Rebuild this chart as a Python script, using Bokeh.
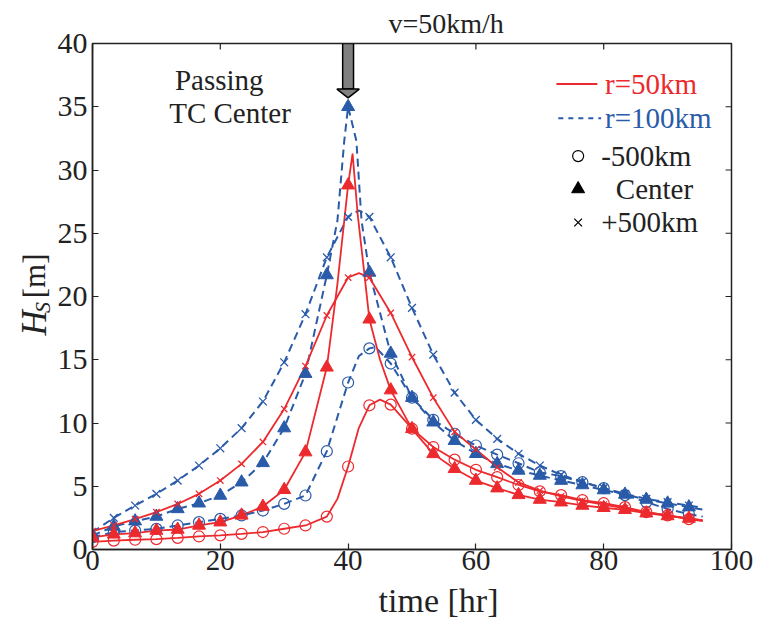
from bokeh.plotting import figure
from bokeh.models import Range1d, FixedTicker, Label, Title
from bokeh.layouts import column, row
from bokeh.embed import file_html
from bokeh.resources import INLINE
import math

# ---------------- data ----------------
T_MARK = [0, 3.33, 6.67, 10, 13.33, 16.67, 20, 23.33, 26.67, 30, 33.33, 36.67, 40,
          43.33, 46.67, 50, 53.33, 56.67, 60, 63.33, 66.67, 70, 73.33, 76.67, 80,
          83.33, 86.67, 90, 93.33]

# r = 50 km (red, solid)
R50_W = [0.6, 0.7, 0.77, 0.82, 0.92, 1.03, 1.12, 1.24, 1.38, 1.64, 1.9, 2.6, 6.56, 11.4,
         11.45, 9.55, 8.1, 7.1, 6.3, 5.72, 5.1, 4.6, 4.3, 3.9, 3.66, 3.35, 2.95, 2.7, 2.4]
R50_C = [0.95, 1.2, 1.3, 1.5, 1.58, 1.9, 2.16, 2.7, 3.4, 4.72, 7.7, 14.4, 28.8, 18.2,
         12.6, 9.54, 7.56, 6.38, 5.45, 4.85, 4.32, 3.95, 3.74, 3.48, 3.3, 3.14, 2.87, 2.65, 2.45]
R50_E = [1.45, 1.9, 2.4, 2.95, 3.6, 4.4, 5.45, 6.77, 8.5, 11.1, 14.5, 18.5, 21.5, 21.5,
         18.7, 15.2, 12.0, 9.3, 7.9, 6.5, 5.3, 4.65, 4.2, 3.85, 3.55, 3.25, 2.95, 2.7, 2.45]
# r = 100 km (blue, dashed)
R100_W = [0.97, 1.37, 1.5, 1.63, 1.9, 2.16, 2.42, 2.69, 3.08, 3.61, 4.27, 7.77, 13.2, 15.9,
          14.7, 12.0, 10.25, 9.15, 8.22, 7.5, 6.82, 6.1, 5.8, 5.32, 4.85, 4.3, 3.75, 3.2, 2.8]
R100_C = [1.1, 1.82, 2.24, 2.61, 3.21, 3.66, 4.27, 5.32, 6.85, 9.6, 13.9, 21.7, 35.0, 21.9,
          15.5, 12.0, 10.06, 8.6, 7.57, 6.77, 6.25, 5.85, 5.45, 5.1, 4.7, 4.35, 3.95, 3.65, 3.35]
R100_E = [1.37, 2.5, 3.48, 4.4, 5.45, 6.64, 8.0, 9.6, 11.7, 14.8, 18.6, 23.1, 26.3, 26.3,
          23.1, 19.1, 15.4, 12.4, 10.25, 8.75, 7.57, 6.64, 5.9, 5.35, 4.85, 4.4, 4.0, 3.74, 3.48]

# extra points of the continuous curves (peaks and curve ends)
R50_W_XT, R50_W_XH = [38.33, 41.67, 45.0, 95.5], [4.0, 9.6, 11.85, 2.25]
R50_C_XT, R50_C_XH = [38.33, 40.7, 41.5, 42.5, 45.0, 95.5], [21.0, 31.3, 26.5, 22.0, 15.0, 2.3]
R50_E_XT, R50_E_XH = [41.7, 95.5], [21.85, 2.3]
R100_W_XT, R100_W_XH = [41.7, 44.3, 95.5], [15.3, 16.0, 2.6]
R100_C_XT, R100_C_XH = [38.33, 39.4, 41.3, 42.1, 95.5], [26.0, 32.3, 32.3, 26.0, 3.15]
R100_E_XT, R100_E_XH = [41.7, 95.5], [26.8, 3.3]

X_TICKS = [0, 20, 40, 60, 80, 100]
Y_TICKS = [0, 5, 10, 15, 20, 25, 30, 35, 40]

RED = "#EC2A2E"
BLUE = "#2A5BA8"
INK = "#222222"
FONT = "Liberation Serif"

# arrow (passing TC centre), in data units
ARROW_T = 40
ARROW_SHAFT_HALF = 0.85
ARROW_HEAD_HALF = 1.75
ARROW_TOP, ARROW_NECK, ARROW_TIP = 40, 36.4, 35.7

# layout sizes (pixels)
TOTAL_W = 758
YLAB_W = 54
ROW_H = 582
XLAB_H = 37
MAIN_W = TOTAL_W - YLAB_W


def merged(ts, hs, ets, ehs):
    pts = sorted(zip(list(ts) + list(ets), list(hs) + list(ehs)))
    return [a for a, _ in pts], [b for _, b in pts]


def blank(w, h):
    f = figure(width=w, height=h, x_range=Range1d(0, w), y_range=Range1d(0, h),
               output_backend="svg", toolbar_location=None, min_border=0,
               x_axis_location=None, y_axis_location=None)
    f.grid.visible = False
    f.outline_line_color = None
    return f


def lab(f, x, y, text, size, color=INK, align="left", baseline="middle", style="normal",
        angle=0):
    f.add_layout(Label(x=x, y=y, text=text, text_font=FONT, text_font_size=size,
                       text_color=color, text_align=align, text_baseline=baseline,
                       text_font_style=style, angle=angle))


# ---------------- main plot ----------------
p = figure(width=MAIN_W, height=ROW_H, x_range=Range1d(0, 100), y_range=Range1d(0, 40),
           output_backend="svg", toolbar_location=None,
           min_border_left=35, min_border_right=MAIN_W - 35 - 642,
           min_border_top=43, min_border_bottom=ROW_H - 43 - 506)
p.grid.visible = False
p.outline_line_color = INK
p.outline_line_width = 1.5

p.add_layout(Title(text="v=50km/h", align="left", offset=296, standoff=9,
                   text_font=FONT, text_font_size="28px", text_font_style="normal",
                   text_color=INK), "above")

for ax in (p.xaxis[0], p.yaxis[0]):
    ax.axis_line_color = INK
    ax.axis_line_width = 1.5
    ax.major_tick_in = 6
    ax.major_tick_out = 0
    ax.major_tick_line_color = INK
    ax.major_tick_line_width = 1.2
    ax.minor_tick_line_color = None
    ax.major_label_text_font = FONT
    ax.major_label_text_color = INK
p.xaxis.major_label_text_font_size = "29px"
p.yaxis.major_label_text_font_size = "30px"
p.xaxis.ticker = FixedTicker(ticks=X_TICKS)
p.yaxis.ticker = FixedTicker(ticks=Y_TICKS)
p.xaxis.major_label_standoff = 1
p.yaxis.major_label_standoff = 5

# inward ticks on the top and right frame edges
TOP_TICK_LEN = 0.47   # 6 px in y data units
RIGHT_TICK_LEN = 0.93  # 6 px in x data units
p.segment(x0=X_TICKS, x1=X_TICKS, y0=[40] * len(X_TICKS), y1=[40 - TOP_TICK_LEN] * len(X_TICKS),
          line_color=INK, line_width=1.2)
p.segment(x0=[100] * len(Y_TICKS), x1=[100 - RIGHT_TICK_LEN] * len(Y_TICKS), y0=Y_TICKS,
          y1=Y_TICKS, line_color=INK, line_width=1.2)

# ---------------- curves ----------------
blue_series = [(R100_W, R100_W_XT, R100_W_XH, "circle"),
               (R100_C, R100_C_XT, R100_C_XH, "triangle"),
               (R100_E, R100_E_XT, R100_E_XH, "x")]
red_series = [(R50_W, R50_W_XT, R50_W_XH, "circle"),
              (R50_C, R50_C_XT, R50_C_XH, "triangle"),
              (R50_E, R50_E_XT, R50_E_XH, "x")]

for vals, xt, xh, mk in blue_series:
    lt, lh = merged(T_MARK, vals, xt, xh)
    p.line(lt, lh, line_color=BLUE, line_width=2, line_dash="8 5")
for vals, xt, xh, mk in red_series:
    lt, lh = merged(T_MARK, vals, xt, xh)
    p.line(lt, lh, line_color=RED, line_width=1.8)


def markers(vals, mk, col, xsize):
    if mk == "circle":
        p.scatter(T_MARK, vals, marker="circle", size=11, fill_color=None,
                  line_color=col, line_width=1.2)
    elif mk == "triangle":
        p.scatter(T_MARK, vals, marker="triangle", size=13, fill_color=col,
                  line_color=col, line_width=1)
    else:
        p.scatter(T_MARK, vals, marker="x", size=xsize, line_color=col, line_width=1.3)


for vals, xt, xh, mk in blue_series:
    markers(vals, mk, BLUE, 11)
for vals, xt, xh, mk in red_series:
    markers(vals, mk, RED, 9)

# ---------------- arrow ----------------
p.quad(left=[ARROW_T - ARROW_SHAFT_HALF], right=[ARROW_T + ARROW_SHAFT_HALF],
       top=[ARROW_TOP], bottom=[ARROW_NECK], fill_color="#808080", line_color="black",
       line_width=1.5)
p.patch([ARROW_T - ARROW_HEAD_HALF, ARROW_T + ARROW_HEAD_HALF, ARROW_T],
        [ARROW_NECK, ARROW_NECK, ARROW_TIP], fill_color="#808080", line_color="black",
        line_width=1.5)

# ---------------- in-plot texts ----------------
lab(p, 12.9, 37.1, "Passing", "29px")
lab(p, 12.0, 34.5, "TC Center", "29px")

# ---------------- legend ----------------
LEG_MK, LEG_TX = 76.0, 80.2
p.segment(x0=[72.6], x1=[79.0], y0=[36.8], y1=[36.8], line_color=RED, line_width=1.8)
p.segment(x0=[72.9], x1=[79.6], y0=[34.1], y1=[34.1], line_color=BLUE, line_width=2,
          line_dash="5 5")
lab(p, LEG_TX, 36.8, "r=50km", "29px", color=RED)
lab(p, LEG_TX, 34.1, "r=100km", "29px", color=BLUE)
p.scatter([LEG_MK], [31.1], marker="circle", size=11, fill_color=None, line_color="black",
          line_width=1.2)
p.scatter([LEG_MK], [28.5], marker="triangle", size=13, fill_color="black", line_color="black")
p.scatter([LEG_MK], [25.85], marker="x", size=11, line_color="black", line_width=1.3)
lab(p, 79.6, 31.1, "-500km", "29px")
lab(p, 81.9, 28.5, "Center", "29px")
lab(p, 79.6, 25.85, "+500km", "29px")

# ---------------- outer texts (separate blank panels) ----------------
ylab = blank(YLAB_W, ROW_H)
# panel y = ROW_H - page_y
lab(ylab, 34, ROW_H - 336, "H", "35px", style="italic", angle=math.pi / 2)
lab(ylab, 42, ROW_H - 310, "S", "22px", style="italic", angle=math.pi / 2)
lab(ylab, 34, ROW_H - 293, "[m]", "31px", angle=math.pi / 2)

bottom = blank(TOTAL_W, XLAB_H)
lab(bottom, 438, XLAB_H - (599.5 - ROW_H), "time [hr]", "34px", align="center")

layout = column(row(ylab, p), bottom)
open("out.html", "w").write(file_html(layout, INLINE))
